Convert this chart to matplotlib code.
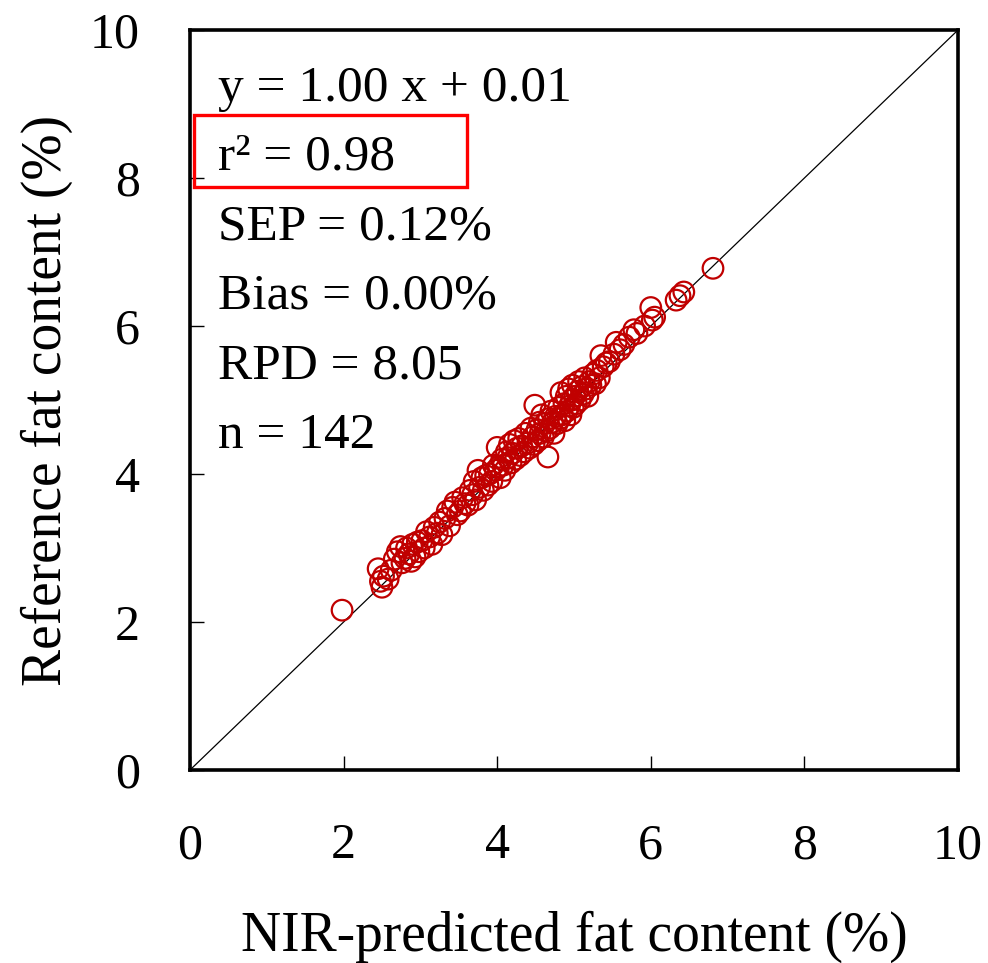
import matplotlib
matplotlib.use("Agg")
import matplotlib.pyplot as plt
from matplotlib.patches import Rectangle

# NIR-predicted (x) vs reference (y) fat content
pred = [1.98,
        2.45, 2.48, 2.50, 2.52, 2.58, 2.62, 2.66, 2.70, 2.74, 2.76, 2.80, 2.82, 2.85, 2.88, 2.90, 2.93, 2.96, 2.98,
        3.02, 3.05, 3.08, 3.12, 3.15, 3.18, 3.22, 3.25, 3.28, 3.32, 3.35, 3.38, 3.42, 3.45, 3.48,
        3.52, 3.55, 3.58, 3.62, 3.65, 3.68, 3.70, 3.72, 3.75, 3.77, 3.80, 3.82, 3.85, 3.88, 3.90, 3.93, 3.95, 3.98,
        4.00, 4.02, 4.04, 4.06, 4.08, 4.10, 4.12, 4.14, 4.16, 4.18, 4.20, 4.22, 4.24, 4.26, 4.28, 4.30, 4.32, 4.35,
        4.37, 4.40, 4.42, 4.44, 4.46, 4.48, 4.49,
        4.52, 4.53, 4.55, 4.56, 4.58, 4.60, 4.62, 4.64, 4.66, 4.67, 4.69, 4.70, 4.72, 4.74, 4.76, 4.78, 4.80, 4.82,
        4.83, 4.85, 4.87, 4.88, 4.90, 4.91, 4.93, 4.94, 4.96, 4.97, 4.98, 4.99,
        5.01, 5.03, 5.05, 5.06, 5.08, 5.10, 5.12, 5.14, 5.16, 5.18, 5.20, 5.22, 5.25, 5.28, 5.30, 5.33, 5.35, 5.38,
        5.42, 5.46,
        5.52, 5.55, 5.60, 5.65, 5.72, 5.78, 5.82, 5.92,
        6.00, 6.02, 6.05, 6.33, 6.38, 6.43, 6.81]
ref = [2.16,
       2.72, 2.55, 2.47, 2.62, 2.58, 2.70, 2.85, 2.95, 3.02, 2.80, 2.86, 3.00, 2.92, 2.82, 3.05, 2.88, 3.08, 2.95,
       3.10, 3.00, 3.22, 3.15, 3.05, 3.28, 3.20, 3.35, 3.18, 3.40, 3.50, 3.30, 3.55, 3.62, 3.45,
       3.50, 3.68, 3.60, 3.58, 3.78, 3.72, 3.90, 3.65, 4.05, 3.82, 3.95, 3.78, 3.98, 3.85, 4.00, 3.90, 4.12, 4.05,
       4.36, 4.10, 3.95, 4.20, 4.12, 4.05, 4.30, 4.22, 4.40, 4.15, 4.28, 4.45, 4.20, 4.35, 4.48, 4.25, 4.38, 4.30,
       4.55, 4.42, 4.35, 4.62, 4.50, 4.40, 4.93,
       4.60, 4.45, 4.70, 4.55, 4.80, 4.50, 4.68, 4.58, 4.23, 4.75, 4.62, 4.85, 4.70, 4.55, 4.78, 4.68, 4.90, 4.75,
       5.10, 4.80, 4.95, 4.72, 5.05, 4.85, 5.15, 4.92, 4.80, 5.00, 5.20, 4.90,
       5.05, 4.95, 5.12, 5.25, 5.00, 5.18, 5.08, 5.30, 5.15, 5.05, 5.25, 5.20, 5.35, 5.22, 5.40, 5.30, 5.60, 5.45,
       5.50, 5.52,
       5.62, 5.78, 5.68, 5.75, 5.85, 5.95, 5.90, 6.00,
       6.25, 6.08, 6.12, 6.35, 6.41, 6.46, 6.78]

stats = ["y = 1.00 x + 0.01", "r\u00b2 = 0.98", "SEP = 0.12%", "Bias = 0.00%", "RPD = 8.05", "n = 142"]
ticks = [0, 2, 4, 6, 8, 10]

plt.rcParams['font.family'] = ['Liberation Serif', 'DejaVu Serif']

fig = plt.figure(figsize=(9.88, 9.63), dpi=100)
ax = fig.add_axes([0.1923, 0.2004, 0.7773, 0.7684])

ax.plot([0, 10], [0, 10], color='black', lw=0.9, zorder=1)
ax.scatter(pred, ref, s=220, facecolors='none', edgecolors='#C00000', linewidths=1.6, zorder=2)

ax.set_xlim(0, 10)
ax.set_ylim(0, 10)
ax.set_xticks(ticks)
ax.set_yticks(ticks)
ax.tick_params(direction='in', length=10, width=1, labelsize=36)
ax.tick_params(axis='x', pad=38)
ax.tick_params(axis='y', pad=36)
for s in ax.spines.values():
    s.set_linewidth(2.6)

ax.set_xlabel('NIR-predicted fat content (%)', fontsize=40, labelpad=30)
ax.set_ylabel('Reference fat content (%)', fontsize=40, labelpad=12)

ys = [9.2, 8.28, 7.34, 6.4, 5.46, 4.52]
for t, yy in zip(stats, ys):
    ax.text(0.36, yy, t, fontsize=37, va='center', ha='left')

ax.add_patch(Rectangle((0.05, 7.88), 3.56, 0.97, fill=False, edgecolor='#FF0000',
                       lw=2.4, clip_on=False, zorder=3))

fig.savefig('out.png', dpi=100)
